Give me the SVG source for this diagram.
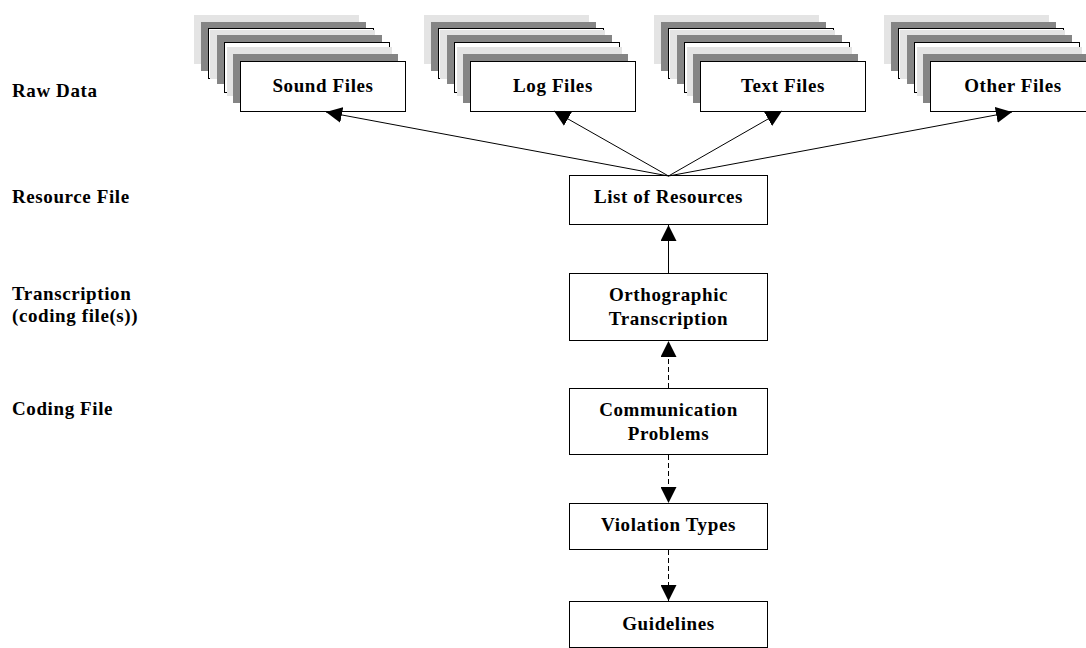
<svg xmlns="http://www.w3.org/2000/svg" xmlns:xlink="http://www.w3.org/1999/xlink" width="1086" height="648" viewBox="0 0 1086 648">
<style>
text{font-family:"Liberation Serif","Times New Roman",serif;font-weight:bold;font-size:19px;letter-spacing:0.6px;fill:#000}
.c{text-anchor:middle}
.box{fill:#fff;stroke:#000;stroke-width:1}
.lg{fill:#e4e4e4}
.dg{fill:#858585}
.wb{fill:#fff;stroke:#000;stroke-width:1}
.conn{stroke:#000;stroke-width:1;fill:none}
.dash{stroke-dasharray:5,3}
</style>
<defs>
<marker id="ah" viewBox="0 0 16 16" refX="16" refY="8" markerWidth="16" markerHeight="16" markerUnits="userSpaceOnUse" orient="auto">
<path d="M0,0 L16,8 L0,16 Z" fill="#000" stroke="none"/>
</marker>
<g id="stackBg">
<rect class="lg" x="-47" y="-47" width="165" height="49"/>
<rect class="dg" x="-40" y="-40" width="165" height="49"/>
<rect class="wb" x="-32.5" y="-33.5" width="165" height="50"/>
<rect class="lg" x="-31" y="-32" width="165" height="49"/>
<rect class="dg" x="-24" y="-27" width="165" height="49"/>
<rect class="wb" x="-16.5" y="-19.5" width="165" height="50"/>
<rect class="lg" x="-14" y="-15" width="165" height="49"/>
<rect class="dg" x="-8" y="-8" width="165" height="49"/>
</g>
</defs>
<rect width="1086" height="648" fill="#fff"/>

<g id="labels">
<text x="12" y="97">Raw Data</text>
<text x="12" y="203">Resource File</text>
<text x="12" y="300">Transcription</text>
<text x="12" y="322">(coding file(s))</text>
<text x="12" y="415">Coding File</text>
</g>

<g id="sound-files">
<use xlink:href="#stackBg" x="241" y="62"/>
<rect class="box" x="240.5" y="61.5" width="165" height="50"/>
<text class="c" x="323" y="92">Sound Files</text>
</g>
<g id="log-files">
<use xlink:href="#stackBg" x="471" y="62"/>
<rect class="box" x="470.5" y="61.5" width="165" height="50"/>
<text class="c" x="553" y="92">Log Files</text>
</g>
<g id="text-files">
<use xlink:href="#stackBg" x="701" y="62"/>
<rect class="box" x="700.5" y="61.5" width="165" height="50"/>
<text class="c" x="783" y="92">Text Files</text>
</g>
<g id="other-files">
<use xlink:href="#stackBg" x="931" y="62"/>
<rect class="box" x="930.5" y="61.5" width="165" height="50"/>
<text class="c" x="1013" y="92">Other Files</text>
</g>

<g id="list-of-resources">
<rect class="box" x="569.5" y="175.5" width="198" height="49"/>
<text class="c" x="668.5" y="203">List of Resources</text>
</g>
<g id="orthographic-transcription">
<rect class="box" x="569.5" y="273.5" width="198" height="67"/>
<text class="c" x="668.5" y="301">Orthographic</text>
<text class="c" x="668.5" y="325">Transcription</text>
</g>
<g id="communication-problems">
<rect class="box" x="569.5" y="388.5" width="198" height="66"/>
<text class="c" x="668.5" y="416">Communication</text>
<text class="c" x="668.5" y="440">Problems</text>
</g>
<g id="violation-types">
<rect class="box" x="569.5" y="503.5" width="198" height="46"/>
<text class="c" x="668.5" y="531">Violation Types</text>
</g>
<g id="guidelines">
<rect class="box" x="569.5" y="601.5" width="198" height="46"/>
<text class="c" x="668.5" y="630">Guidelines</text>
</g>

<g id="connectors">
<line class="conn" x1="668.5" y1="176" x2="326" y2="112" marker-end="url(#ah)"/>
<line class="conn" x1="668.5" y1="176" x2="554" y2="111" marker-end="url(#ah)"/>
<line class="conn" x1="668.5" y1="176" x2="782" y2="111" marker-end="url(#ah)"/>
<line class="conn" x1="668.5" y1="176" x2="1012" y2="112" marker-end="url(#ah)"/>
<line class="conn" x1="668.5" y1="273" x2="668.5" y2="225" marker-end="url(#ah)"/>
<line class="conn dash" x1="668.5" y1="388" x2="668.5" y2="341" marker-end="url(#ah)"/>
<line class="conn dash" x1="668.5" y1="455" x2="668.5" y2="503" marker-end="url(#ah)"/>
<line class="conn dash" x1="668.5" y1="550" x2="668.5" y2="601" marker-end="url(#ah)"/>
</g>
</svg>
